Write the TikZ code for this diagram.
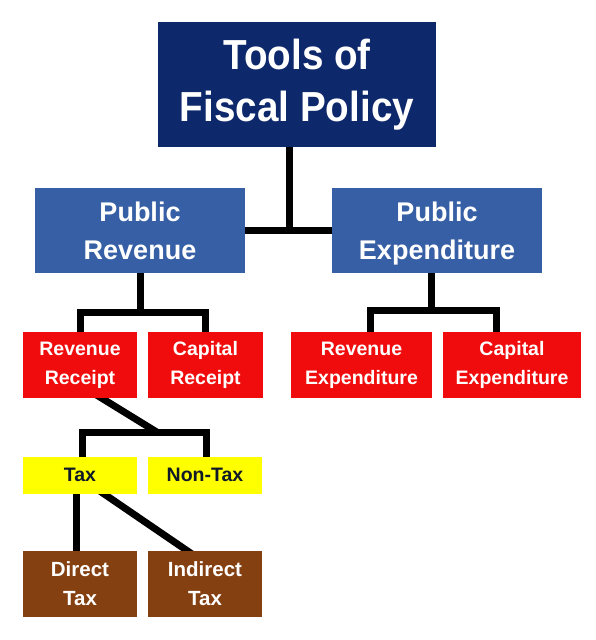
\documentclass[tikz,border=0pt]{standalone}
\usepackage{fontspec}
\setmainfont{Liberation Sans}
\usetikzlibrary{calc}
\pgfdeclarelayer{bg}
\pgfsetlayers{bg,main}
\definecolor{navy}{RGB}{14,40,108}
\definecolor{steel}{RGB}{55,95,165}
\definecolor{boxred}{RGB}{240,12,12}
\definecolor{boxyellow}{RGB}{255,255,0}
\definecolor{boxbrown}{RGB}{133,64,18}
\definecolor{darktext}{RGB}{15,25,40}
\newcommand{\nodepth}[1]{\raisebox{0pt}[\height][0pt]{#1}}
\begin{document}
\begin{tikzpicture}[x=1pt,y=-1pt,
  box/.style={rectangle, inner sep=0pt, align=center, text=white},
  topbox/.style={box, fill=navy, minimum width=278pt, minimum height=125pt,
    font=\fontsize{42}{52}\selectfont\bfseries\addfontfeature{FakeStretch=0.92}},
  pubbox/.style={box, fill=steel, minimum width=210pt, minimum height=85pt,
    font=\fontsize{27}{38}\selectfont\bfseries},
  redbox/.style={box, fill=boxred, minimum height=66pt,
    font=\fontsize{19.5}{29}\selectfont\bfseries},
  yelbox/.style={box, fill=boxyellow, text=darktext, minimum width=114pt, minimum height=37pt,
    font=\fontsize{19.5}{24}\selectfont\bfseries},
  brnbox/.style={box, fill=boxbrown, minimum width=114pt, minimum height=66pt,
    font=\fontsize{20.5}{29}\selectfont\bfseries},
  conn/.style={line width=7pt, black, line join=miter}]
\useasboundingbox (0,0) rectangle (596,640);

\node[topbox] (top) at (297,84.5) {Tools of\\Fiscal Policy};
\node[pubbox] (pr) at (140,230.5) {Public\\Revenue};
\node[pubbox] (pe) at (437,230.5) {Public\\\nodepth{Expenditure}};

\node[redbox, minimum width=114pt] (rr) at (80,365) {Revenue\\Receipt};
\node[redbox, minimum width=115pt] (cr) at (205.5,365) {Capital\\Receipt};
\node[redbox, minimum width=141pt] (re) at (361.5,365) {Revenue\\Expenditure};
\node[redbox, minimum width=138pt] (ce) at (512,365) {Capital\\Expenditure};

\node[yelbox] (tax) at (80,475) {Tax};
\node[yelbox] (ntax) at (205,475) {Non-Tax};

\node[brnbox] (dt) at (80,584) {Direct\\Tax};
\node[brnbox] (it) at (205,584) {Indirect\\Tax};

\begin{pgfonlayer}{bg}
  \fill[white] (0,0) rectangle (596,640);
  % top level
  \coordinate (j0) at ($(top.south)+(-8,0)$);
  \draw[conn] ($(top.center)+(-8,0)$) -- (j0 |- pr.east);
  \draw[conn] (pr.center) -- (pe.center);
  % public revenue
  \coordinate (j1) at ($(pr.south)+(0,39)$);
  \draw[conn] (pr.center) -- (j1);
  \draw[conn] ($(rr.north)+(0,8)$) |- (j1) -| ($(cr.north)+(0,8)$);
  % public expenditure
  \coordinate (j2) at ($(pe.south)+(-6,37)$);
  \draw[conn] ($(pe.center)+(-6,0)$) -- (j2);
  \draw[conn] ($(re.north)+(8.5,8)$) |- (j2) -| ($(ce.north)+(-16,8)$);
  % revenue receipt
  \coordinate (j3) at ($(rr.south)+(77,34)$);
  \draw[conn] ($(rr.south)+(12,-6)$) -- (j3);
  \draw[conn] ($(tax.north)+(2,8)$) |- (j3) -| ($(ntax.north)+(1,8)$);
  % tax
  \draw[conn] ($(tax.south)+(-4,-6)$) -- ($(dt.north)+(-4,6)$);
  \draw[conn] ($(tax.south)+(12,-8)$) -- ($(it.north)+(-6,8)$);
\end{pgfonlayer}
\end{tikzpicture}
\end{document}
